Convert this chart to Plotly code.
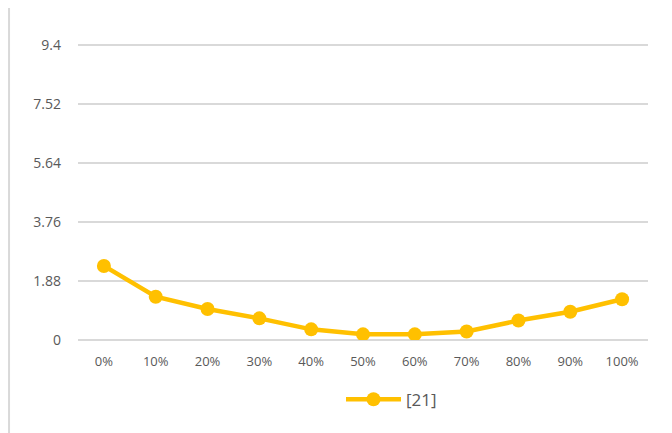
import plotly.graph_objects as go

# values
categories = ['0%', '10%', '20%', '30%', '40%', '50%', '60%', '70%', '80%', '90%', '100%']
series_21 = [2.36, 1.38, 0.99, 0.69, 0.34, 0.18, 0.18, 0.27, 0.62, 0.90, 1.30]
y_ticks = [0, 1.88, 3.76, 5.64, 7.52, 9.4]
y_labels = ['0', '1.88', '3.76', '5.64', '7.52', '9.4']

gold = '#FFC000'
text_grey = '#595959'

fig = go.Figure()
fig.add_trace(go.Scatter(
    x=categories, y=series_21, name='[21]',
    mode='lines+markers',
    line=dict(color=gold, width=4.5),
    marker=dict(color=gold, size=14),
))

# page body has an 8px margin, so the figure is 8px smaller than the window
# y range goes a little past 9.4 so the top gridline is still drawn
fig.update_layout(
    width=664, height=425,
    margin=dict(l=70, r=24, t=34, b=93),
    plot_bgcolor='white',
    paper_bgcolor='white',
    font=dict(family='Open Sans, Liberation Sans, sans-serif', color=text_grey, size=12),
    showlegend=True,
    legend=dict(
        orientation='h', x=0.55, xanchor='center', y=-0.14, yanchor='top',
        font=dict(size=17, color=text_grey),
        itemwidth=55,
    ),
    xaxis=dict(
        type='category', range=[-0.5, 10.5],
        showgrid=False, showline=False, ticks='', ticklabelstandoff=12,
        tickfont=dict(size=13, color=text_grey),
    ),
    yaxis=dict(
        range=[0, 9.495], tickvals=y_ticks, ticktext=y_labels,
        showgrid=True, gridcolor='#D9D9D9', gridwidth=1.5,
        zeroline=True, zerolinecolor='#D9D9D9', zerolinewidth=1.5,
        showline=False, ticks='', ticklabelstandoff=16,
        tickfont=dict(size=14, color=text_grey),
    ),
    shapes=[dict(type='line', xref='paper', yref='paper',
                 x0=-0.121, x1=-0.121, y0=-0.5, y1=1.2,
                 line=dict(color='#D9D9D9', width=2))],
)

fig.write_html("out.html")
